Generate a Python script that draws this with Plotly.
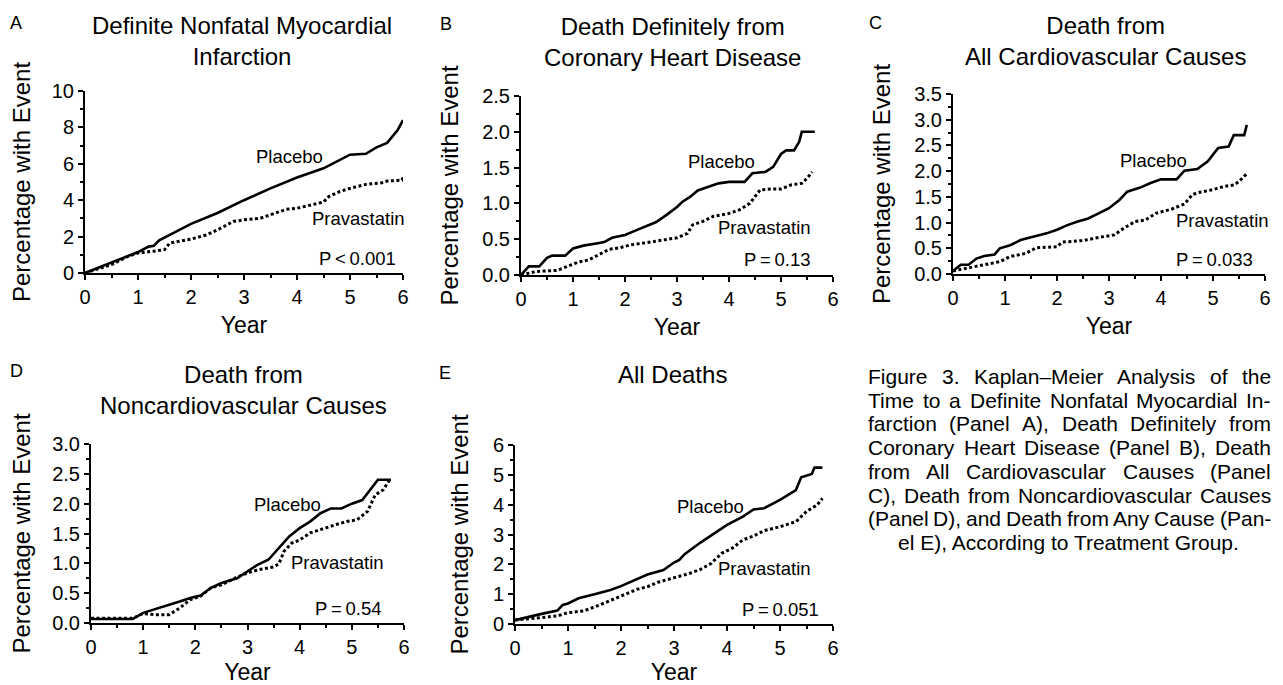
import plotly.graph_objects as go

# The page puts the figure 8px in from the top-left corner (default body margin),
# so the figure is sized to end exactly at the window edges.
OFF = 8
WIN_W, WIN_H = 1283, 685
W, H = WIN_W - OFF, WIN_H - OFF
FONT = "Liberation Sans, Arial, Helvetica, sans-serif"

# ---------------- data ----------------
# Panel A: Definite nonfatal MI
A_years_placebo = [0, 0.41, 0.7, 1.0, 1.2, 1.3, 1.4, 1.6, 1.8, 2.0, 2.5, 3.0, 3.5, 4.0, 4.5, 5.0, 5.3, 5.5, 5.7, 5.9, 6.0]
A_placebo = [0, 0.46, 0.82, 1.15, 1.45, 1.5, 1.8, 2.1, 2.4, 2.7, 3.3, 4.0, 4.65, 5.25, 5.75, 6.5, 6.55, 6.9, 7.15, 7.85, 8.4]
A_years_prava = [0, 0.5, 0.8, 1.0, 1.3, 1.5, 1.6, 2.0, 2.3, 2.5, 2.8, 3.0, 3.3, 3.5, 3.8, 4.0, 4.3, 4.5, 4.6, 4.8, 5.0, 5.3, 5.6, 5.7, 5.98, 6.01]
A_prava = [0, 0.46, 0.9, 1.1, 1.2, 1.28, 1.65, 1.86, 2.1, 2.37, 2.83, 2.92, 3.0, 3.2, 3.5, 3.56, 3.74, 3.9, 4.2, 4.47, 4.65, 4.87, 4.96, 5.05, 5.1, 5.3]

# Panel B: Death definitely from CHD
B_years_placebo = [0, 0.15, 0.35, 0.5, 0.6, 0.85, 1.0, 1.2, 1.45, 1.6, 1.75, 2.0, 2.2, 2.4, 2.6, 2.8, 3.0, 3.1, 3.25, 3.4, 3.6, 3.8, 4.0, 4.3, 4.45, 4.7, 4.85, 5.0, 5.1, 5.25, 5.35, 5.4, 5.65]
B_placebo = [0, 0.12, 0.12, 0.24, 0.27, 0.27, 0.37, 0.41, 0.44, 0.46, 0.52, 0.56, 0.62, 0.68, 0.74, 0.84, 0.95, 1.02, 1.09, 1.18, 1.23, 1.28, 1.3, 1.3, 1.42, 1.44, 1.51, 1.69, 1.74, 1.74, 1.86, 2.0, 2.0]
B_years_prava = [0, 0.3, 0.7, 0.9, 1.1, 1.3, 1.5, 1.7, 1.9, 2.1, 2.4, 2.7, 3.0, 3.2, 3.3, 3.5, 3.7, 4.0, 4.2, 4.4, 4.5, 4.6, 4.8, 5.0, 5.2, 5.4, 5.5, 5.6]
B_prava = [0, 0.05, 0.065, 0.12, 0.18, 0.21, 0.28, 0.36, 0.38, 0.42, 0.45, 0.49, 0.52, 0.58, 0.7, 0.75, 0.82, 0.86, 0.91, 1.0, 1.09, 1.19, 1.2, 1.2, 1.26, 1.28, 1.35, 1.44]

# Panel C: Death from all cardiovascular causes
C_years_placebo = [0, 0.15, 0.3, 0.45, 0.6, 0.8, 0.9, 1.1, 1.3, 1.5, 1.8, 2.0, 2.2, 2.4, 2.6, 2.8, 3.0, 3.2, 3.35, 3.6, 3.8, 4.0, 4.3, 4.45, 4.7, 4.9, 5.1, 5.3, 5.4, 5.6, 5.65]
C_placebo = [0.06, 0.18, 0.18, 0.3, 0.35, 0.38, 0.5, 0.56, 0.66, 0.71, 0.79, 0.86, 0.95, 1.02, 1.08, 1.18, 1.28, 1.44, 1.6, 1.68, 1.77, 1.84, 1.84, 2.01, 2.04, 2.19, 2.45, 2.48, 2.7, 2.7, 2.9]
C_years_prava = [0, 0.3, 0.6, 0.9, 1.1, 1.4, 1.6, 2.0, 2.1, 2.5, 2.8, 3.1, 3.3, 3.5, 3.7, 3.9, 4.2, 4.45, 4.6, 4.7, 5.0, 5.2, 5.4, 5.5, 5.65]
C_prava = [0.06, 0.12, 0.17, 0.24, 0.34, 0.4, 0.51, 0.53, 0.62, 0.65, 0.71, 0.76, 0.9, 1.02, 1.05, 1.18, 1.26, 1.36, 1.54, 1.58, 1.64, 1.7, 1.73, 1.8, 1.95]

# Panel D: Death from noncardiovascular causes
D_years_placebo = [0, 0.8, 1.0, 1.3, 1.5, 1.7, 1.9, 2.1, 2.3, 2.5, 2.8, 3.0, 3.2, 3.4, 3.6, 3.8, 4.0, 4.2, 4.4, 4.6, 4.8, 5.0, 5.2, 5.35, 5.5, 5.75]
D_placebo = [0.067, 0.067, 0.17, 0.25, 0.3, 0.36, 0.42, 0.46, 0.59, 0.67, 0.75, 0.86, 0.98, 1.06, 1.25, 1.45, 1.59, 1.7, 1.84, 1.92, 1.92, 2.0, 2.06, 2.23, 2.4, 2.4]
D_years_prava = [0, 0.8, 1.0, 1.2, 1.5, 1.7, 1.9, 2.1, 2.3, 2.5, 2.8, 3.0, 3.2, 3.5, 3.6, 3.7, 3.85, 4.0, 4.2, 4.4, 4.7, 4.9, 5.1, 5.3, 5.45, 5.6, 5.75]
D_prava = [0.08, 0.08, 0.16, 0.14, 0.14, 0.25, 0.39, 0.45, 0.59, 0.64, 0.77, 0.84, 0.89, 0.94, 0.99, 1.2, 1.34, 1.39, 1.51, 1.57, 1.65, 1.7, 1.73, 1.87, 2.15, 2.23, 2.43]

# Panel E: All deaths
E_years_placebo = [0, 0.2, 0.5, 0.8, 0.9, 1.0, 1.2, 1.5, 1.8, 2.0, 2.3, 2.5, 2.8, 3.0, 3.1, 3.2, 3.5, 3.8, 4.0, 4.3, 4.5, 4.7, 5.0, 5.3, 5.4, 5.6, 5.65, 5.8]
E_placebo = [0.13, 0.22, 0.34, 0.45, 0.64, 0.69, 0.86, 1.0, 1.14, 1.27, 1.5, 1.66, 1.81, 2.06, 2.15, 2.34, 2.73, 3.1, 3.32, 3.6, 3.84, 3.88, 4.16, 4.49, 4.92, 5.03, 5.24, 5.24]
E_years_prava = [0, 0.5, 0.8, 1.0, 1.3, 1.6, 1.9, 2.1, 2.3, 2.5, 2.7, 2.9, 3.1, 3.3, 3.5, 3.7, 3.9, 4.1, 4.3, 4.5, 4.7, 5.0, 5.3, 5.5, 5.7, 5.8]
E_prava = [0.13, 0.22, 0.27, 0.38, 0.44, 0.64, 0.86, 1.0, 1.16, 1.25, 1.4, 1.5, 1.59, 1.7, 1.83, 2.03, 2.37, 2.54, 2.82, 2.95, 3.13, 3.26, 3.43, 3.77, 3.99, 4.21]

panel_letters = ["A", "B", "C", "D", "E"]
panel_titles = [
    "Definite Nonfatal Myocardial<br>Infarction",
    "Death Definitely from<br>Coronary Heart Disease",
    "Death from<br>All Cardiovascular Causes",
    "Death from<br>Noncardiovascular Causes",
    "All Deaths",
]
p_values = ["P\u2009&lt;\u20090.001", "P\u2009=\u20090.13", "P\u2009=\u20090.033", "P\u2009=\u20090.54", "P\u2009=\u20090.051"]
y_max = [10, 2.5, 3.5, 3.0, 6]
y_major = [2, 0.5, 0.5, 0.5, 1]
x_ticks = [0, 1, 2, 3, 4, 5, 6]
x_minor = [0.5, 1.5, 2.5, 3.5, 4.5, 5.5]

caption_lines = [
    "Figure 3. Kaplan\u2013Meier Analysis of the",
    "Time to a Definite Nonfatal Myocardial In-",
    "farction (Panel A), Death Definitely from",
    "Coronary Heart Disease (Panel B), Death",
    "from All Cardiovascular Causes (Panel",
    "C), Death from Noncardiovascular Causes",
    "(Panel D), and Death from Any Cause (Pan-",
    "el E), According to Treatment Group.",
]

series = [
    (A_years_placebo, A_placebo, A_years_prava, A_prava),
    (B_years_placebo, B_placebo, B_years_prava, B_prava),
    (C_years_placebo, C_placebo, C_years_prava, C_prava),
    (D_years_placebo, D_placebo, D_years_prava, D_prava),
    (E_years_placebo, E_placebo, E_years_prava, E_prava),
]

# ---------------- layout geometry (window pixels) ----------------
boxes = [  # (left, right, top, bottom)
    (85, 403, 91, 273),
    (521, 833, 96, 275),
    (953, 1265, 94, 274),
    (91, 404, 444, 623),
    (515, 833, 445, 624),
]
letter_pos = [(16, 23), (446, 24), (875, 23), (16, 371), (445, 373)]
title_pos = [(242, 41), (672, 42), (1105, 41), (243, 390), (672, 375)]
label_pos = [
    ((3.85, 6.4), (5.16, 3.0), (5.15, 0.82)),
    ((3.86, 1.58), (4.69, 0.66), (4.93, 0.21)),
    ((3.86, 2.21), (5.19, 1.04), (5.03, 0.29)),
    ((3.77, 1.98), (4.72, 1.01), (4.94, 0.25)),
    ((3.68, 3.93), (4.71, 1.87), (5.0, 0.49)),
]


def px(x):
    return (x - OFF) / W


def py(y):
    return 1 - (y - OFF) / H


fig = go.Figure()
annotations = []
layout = dict(
    width=W, height=H, margin=dict(l=0, r=0, t=0, b=0),
    paper_bgcolor="white", plot_bgcolor="white", showlegend=False,
    font=dict(family=FONT, color="black"),
)

for i, (xp, yp, xv, yv) in enumerate(series):
    n = "" if i == 0 else str(i + 1)
    l, r, t, b = boxes[i]
    fig.add_trace(go.Scatter(x=xp, y=yp, mode="lines", name="Placebo",
                             line=dict(color="black", width=2.6),
                             xaxis="x" + n, yaxis="y" + n, hoverinfo="skip"))
    fig.add_trace(go.Scatter(x=xv, y=yv, mode="lines", name="Pravastatin",
                             line=dict(color="black", width=3, dash="3px,2.5px"),
                             xaxis="x" + n, yaxis="y" + n, hoverinfo="skip"))
    fmt = ".1f" if y_major[i] < 1 else "d"
    layout["xaxis" + n] = dict(
        domain=[px(l), px(r)], anchor="y" + n, range=[0, 6],
        tickvals=x_ticks, ticks="outside", ticklen=5, tickwidth=2, tickcolor="black",
        minor=dict(tickvals=x_minor, ticks="outside", ticklen=3, tickwidth=1.5, tickcolor="black"),
        showline=True, linewidth=2, linecolor="black", showgrid=False, zeroline=False,
        tickfont=dict(size=20), automargin=False,
        title=dict(text="Year", font=dict(size=23), standoff=10),
    )
    layout["yaxis" + n] = dict(
        domain=[py(b), py(t)], anchor="x" + n, range=[0, y_max[i]],
        dtick=y_major[i], tick0=0, tickformat=fmt,
        ticks="outside", ticklen=5, tickwidth=2, tickcolor="black",
        minor=dict(dtick=y_major[i] / 2, ticks="outside", ticklen=3, tickwidth=1.5, tickcolor="black"),
        showline=True, linewidth=2, linecolor="black", showgrid=False, zeroline=False,
        tickfont=dict(size=20), automargin=False,
        title=dict(text="Percentage with Event", font=dict(size=24), standoff=17),
    )
    lx, ly = letter_pos[i]
    annotations.append(dict(text=panel_letters[i], x=px(lx), y=py(ly), xref="paper", yref="paper",
                            xanchor="center", yanchor="middle", showarrow=False, font=dict(size=18)))
    tx, ty = title_pos[i]
    annotations.append(dict(text=panel_titles[i], x=px(tx), y=py(ty), xref="paper", yref="paper",
                            xanchor="center", yanchor="middle", showarrow=False, font=dict(size=24)))
    (plx, ply), (prx, pry), (ppx, ppy) = label_pos[i]
    for txt, (ax_, ay_) in (("Placebo", (plx, ply)), ("Pravastatin", (prx, pry)), (p_values[i], (ppx, ppy))):
        annotations.append(dict(text=txt, x=ax_, y=ay_, xref="x" + n, yref="y" + n,
                                xanchor="center", yanchor="middle", showarrow=False,
                                font=dict(size=18.5)))

# ---------------- caption, justified word by word ----------------
ARIAL = {
    " ": 278, "(": 333, ")": 333, ",": 278, "-": 333, ".": 278, "\u2013": 556,
    "A": 667, "B": 667, "C": 722, "D": 722, "E": 667, "F": 611, "G": 778, "H": 722, "I": 278,
    "J": 500, "K": 667, "L": 556, "M": 833, "N": 722, "O": 778, "P": 667, "Q": 778, "R": 722,
    "S": 667, "T": 611, "U": 722, "V": 667, "W": 944, "X": 667, "Y": 667, "Z": 611,
    "a": 556, "b": 556, "c": 500, "d": 556, "e": 556, "f": 278, "g": 556, "h": 556, "i": 222,
    "j": 222, "k": 500, "l": 222, "m": 833, "n": 556, "o": 556, "p": 556, "q": 556, "r": 333,
    "s": 500, "t": 278, "u": 556, "v": 500, "w": 722, "x": 500, "y": 500, "z": 500,
}
CAP_SIZE = 21
CAP_LEFT, CAP_RIGHT = 867, 1270
CAP_TOP, CAP_STEP = 376.5, 23.7


def text_w(s):
    return sum(ARIAL.get(c, 556) for c in s) / 1000 * CAP_SIZE


for k, line in enumerate(caption_lines):
    yy = py(CAP_TOP + k * CAP_STEP)
    if k == len(caption_lines) - 1:
        annotations.append(dict(text=line, x=px((CAP_LEFT + CAP_RIGHT) / 2), y=yy, xref="paper", yref="paper",
                                xanchor="center", yanchor="middle", showarrow=False,
                                font=dict(size=CAP_SIZE)))
        continue
    words = line.split(" ")
    widths = [text_w(w_) for w_ in words]
    gap = (CAP_RIGHT - CAP_LEFT - sum(widths)) / (len(words) - 1)
    xcur = CAP_LEFT
    for w_, wd in zip(words, widths):
        annotations.append(dict(text=w_, x=px(xcur), y=yy, xref="paper", yref="paper",
                                xanchor="left", yanchor="middle", showarrow=False,
                                borderpad=0, font=dict(size=CAP_SIZE)))
        xcur += wd + gap

layout["annotations"] = annotations
fig.update_layout(**layout)
fig.write_html("out.html")
